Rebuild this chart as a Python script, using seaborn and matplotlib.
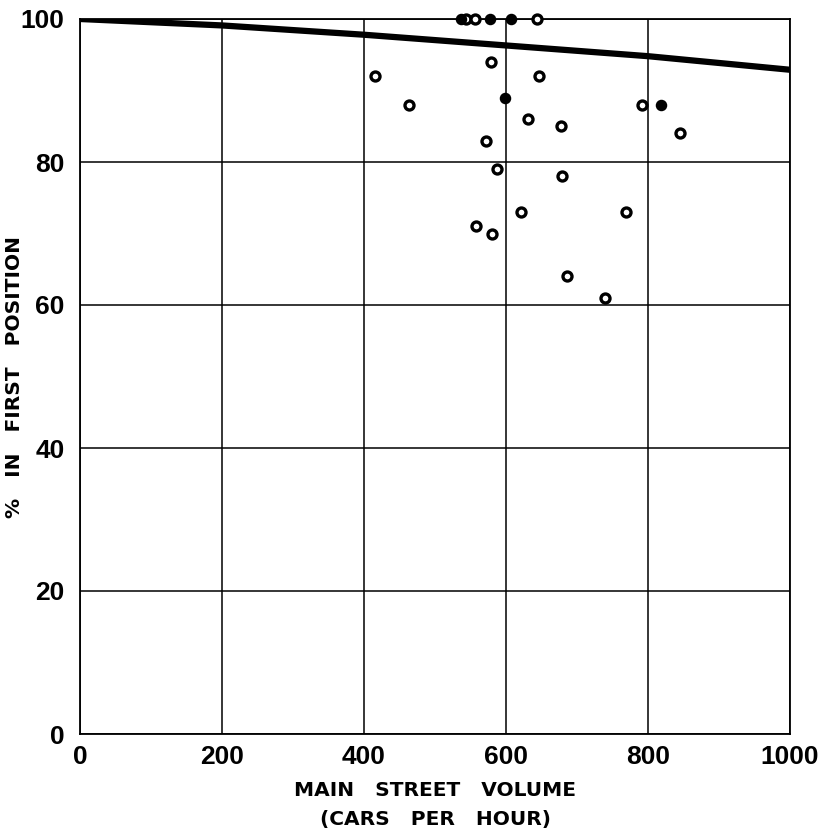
import matplotlib
matplotlib.use("Agg")
import matplotlib.pyplot as plt
import seaborn as sns
import pandas as pd
import numpy as np

# open-circle observations
open_x = [415, 463, 579, 647, 791, 631, 678, 845, 679, 621, 769, 686, 740, 572, 588, 558, 580, 544, 556, 644]
open_y = [92, 88, 94, 92, 88, 86, 85, 84, 78, 73, 73, 64, 61, 83, 79, 71, 70, 100, 100, 100]
# filled-circle observations
solid_x = [599, 818, 537, 577, 607]
solid_y = [89, 88, 100, 100, 100]
# fitted curve
curve_x = [0, 200, 400, 600, 800, 1000]
curve_y = [100, 99.1, 97.8, 96.3, 94.8, 92.9]

xticks = [0, 200, 400, 600, 800, 1000]
yticks = [0, 20, 40, 60, 80, 100]

sns.set_theme(style="white")
plt.rcParams['font.family'] = ['DejaVu Sans']

fig = plt.figure(figsize=(8.18, 8.35), dpi=100)
ax = fig.add_axes([80/818, 1-734/835, 710/818, 715/835])

curve = pd.DataFrame({"x": curve_x, "y": curve_y})
sns.lineplot(data=curve, x="x", y="y", ax=ax, color="black", linewidth=4.5, zorder=3)

df_open = pd.DataFrame({"x": open_x, "y": open_y})
df_solid = pd.DataFrame({"x": solid_x, "y": solid_y})
sns.scatterplot(data=df_open, x="x", y="y", ax=ax, s=42, facecolor="white",
                edgecolor="black", linewidth=2.4, zorder=4, clip_on=False)
sns.scatterplot(data=df_solid, x="x", y="y", ax=ax, s=50, color="black",
                edgecolor="black", linewidth=1.2, zorder=4, clip_on=False)

tickfont = dict(family="Liberation Sans", size=19, weight="bold")
ax.set_xlim(0, 1000)
ax.set_ylim(0, 100)
ax.set_xticks(xticks)
ax.set_yticks(yticks)
ax.set_xticklabels([str(t) for t in xticks], fontdict=tickfont)
ax.set_yticklabels([str(t) for t in yticks], fontdict=tickfont)
ax.tick_params(axis="x", length=0, pad=8, colors="black")
ax.tick_params(axis="y", length=0, pad=11, colors="black")
ax.grid(True, color="black", linewidth=1.1)
for s in ax.spines.values():
    s.set_color("black")
    s.set_linewidth(1.3)
ax.set_xlabel("MAIN   STREET   VOLUME\n(CARS   PER   HOUR)", fontsize=14.5, fontweight="bold",
              linespacing=1.65, color="black")
ax.xaxis.set_label_coords(0.5, -0.066)
ax.xaxis.label.set_va("top")
ax.set_ylabel("%   IN   FIRST   POSITION", fontsize=14.5, fontweight="bold", color="black")
ax.yaxis.set_label_coords(-0.092, 0.5)
ax.yaxis.label.set_va("center")

fig.savefig("out.png", dpi=100)
